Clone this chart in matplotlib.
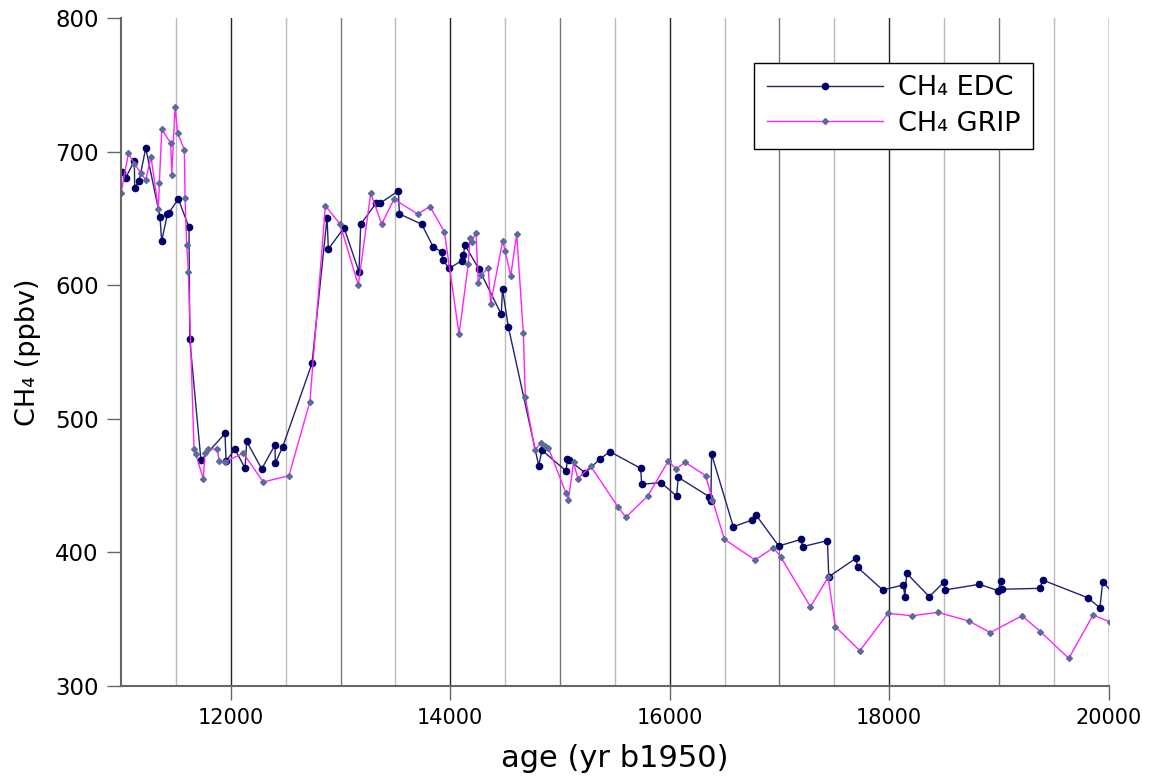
#!/usr/bin/env python
import matplotlib
matplotlib.use('Agg')
import matplotlib.pyplot as plt
import numpy as np

# EPICA Dome C methane record (age in yr before 1950, ppbv)
edc_age = [11006, 11043, 11121, 11124, 11164, 11225, 11355, 11370, 11422, 11434,
           11522, 11619, 11626, 11728, 11947, 11957, 12038, 12130, 12145, 12282,
           12403, 12406, 12473, 12740, 12877, 12889, 13032, 13168, 13184, 13323,
           13360, 13527, 13536, 13740, 13846, 13922, 13931, 13991, 14104, 14119,
           14134, 14262, 14465, 14476, 14529, 14806, 14836, 15055, 15068, 15085,
           15228, 15364, 15455, 15735, 15744, 15920, 16063, 16077, 16360, 16375,
           16381, 16579, 16752, 16786, 16993, 17200, 17210, 17437, 17449, 17697,
           17712, 17940, 18128, 18143, 18159, 18365, 18499, 18508, 18821, 18993,
           19015, 19024, 19373, 19398, 19808, 19920, 19945, 20060]
edc_ch4 = [684.5, 680.5, 693, 673, 678, 702.5, 651, 633, 653, 654,
           664.5, 643.3, 559.5, 469, 489, 468.4, 477.2, 463, 483, 462.5,
           480.5, 467, 479, 541.5, 650.5, 627, 643, 610, 645.6, 661.3,
           661.3, 670.5, 653.3, 645.6, 628.3, 625.1, 618.9, 612.6, 618.3, 622.6,
           630, 611.9, 578.2, 597, 568.9, 464.9, 476.4, 461, 469.8, 469,
           459.5, 469.9, 475.4, 462.9, 451, 452.2, 442.2, 456.2, 441.7, 438.7,
           473.6, 419.2, 424.3, 428, 404.8, 409.8, 404.3, 408.8, 381.8, 395.6,
           388.8, 371.9, 375.6, 366.9, 384.3, 366.9, 377.8, 371.9, 376.1, 371.4,
           378.6, 372.4, 373.1, 379.3, 366.1, 358.6, 377.8, 368]

# GRIP methane record
grip_age = [11000, 11067, 11121, 11180, 11225, 11273, 11340, 11349, 11371, 11453,
            11462, 11492, 11516, 11577, 11583, 11598, 11613, 11665, 11680, 11750,
            11765, 11795, 11877, 11895, 11950, 12114, 12296, 12530, 12721, 12862,
            12995, 13162, 13275, 13375, 13487, 13703, 13815, 13946, 14080, 14164,
            14180, 14195, 14234, 14255, 14280, 14346, 14368, 14478, 14499, 14551,
            14605, 14666, 14684, 14772, 14826, 14860, 14893, 15053, 15076, 15124,
            15163, 15280, 15531, 15600, 15799, 15987, 16057, 16139, 16328, 16389,
            16498, 16778, 16945, 17010, 17282, 17443, 17510, 17732, 17989, 18211,
            18444, 18724, 18922, 19210, 19378, 19636, 19858, 20010]
grip_ch4 = [668.8, 698.7, 691, 684, 678.7, 696, 657, 676.3, 716.7, 706.2,
            682.5, 733.2, 713.9, 701.2, 665, 630.1, 610.1, 477.2, 473.4, 455,
            474.2, 477.3, 477.3, 468.2, 468, 474.2, 452.7, 457.4, 512.8, 659.4,
            645.8, 600.1, 668.8, 645.8, 664.3, 653.3, 658.8, 640, 563.2, 615.9,
            635.1, 632.6, 639.3, 601.9, 607.6, 612.6, 585.9, 633.3, 625.8, 606.9,
            638.3, 564, 516.1, 476.4, 482.1, 479.6, 478.5, 444.7, 439.2, 467.3,
            455.3, 464.5, 433.7, 426.3, 442.2, 468.4, 462.4, 467.5, 457.4, 439.2,
            409.8, 394.3, 403.5, 396.8, 359.4, 381.3, 344.4, 326.4, 354.4, 352.6,
            355.1, 348.7, 340, 352.6, 340.7, 320.7, 353.1, 348]

plt.rcParams['font.family'] = ['DejaVu Sans']

fig = plt.figure(figsize=[11.64, 7.8], dpi=100)
ax = fig.add_axes([0.104, 0.1205, 0.8485, 0.8565])

# vertical grid every 500 yr
for g in np.arange(11500, 20001, 500):
    if g % 2000 == 0:
        c = '#222222'
    elif g % 1000 == 0:
        c = '#777777'
    else:
        c = '#bbbbbb'
    ax.axvline(g, color=c, lw=1, zorder=0)

ax.plot(edc_age, edc_ch4, '-', color='#23236e', lw=1, marker='o', ms=4.5,
        mfc='#000066', mec='#000066', label='CH\u2084 EDC')
ax.plot(grip_age, grip_ch4, '-', color='#ff22ff', lw=1, marker='D', ms=3,
        mfc='#5b6b9b', mec='#5b6b9b', label='CH\u2084 GRIP')

ax.set_xlim(11000, 20000)
ax.set_ylim(300, 800)
ax.set_xticks([12000, 14000, 16000, 18000, 20000])
ax.set_yticks([300, 400, 500, 600, 700, 800])

for s in ['top', 'right']:
    ax.spines[s].set_visible(False)
for s in ['left', 'bottom']:
    ax.spines[s].set_color('#666666')
    ax.spines[s].set_linewidth(1.5)
ax.tick_params(axis='both', direction='out', length=10, width=1, color='#666666', pad=6)
ax.tick_params(axis='x', labelsize=15)
ax.tick_params(axis='y', labelsize=16.5)

ax.set_xlabel('age (yr b1950)', fontsize=22, labelpad=11)
ax.set_ylabel('CH\u2084 (ppbv)', fontsize=19.5, labelpad=10)

leg = ax.legend(loc='upper right', bbox_to_anchor=(0.923, 0.9326), fontsize=19.5,
                frameon=True, fancybox=False, framealpha=1, edgecolor='black',
                numpoints=1, handlelength=4.3, handletextpad=0.55, borderpad=0.45,
                labelspacing=0.35, borderaxespad=0)
leg.get_frame().set_linewidth(1)

plt.savefig('out.png', dpi=100)
